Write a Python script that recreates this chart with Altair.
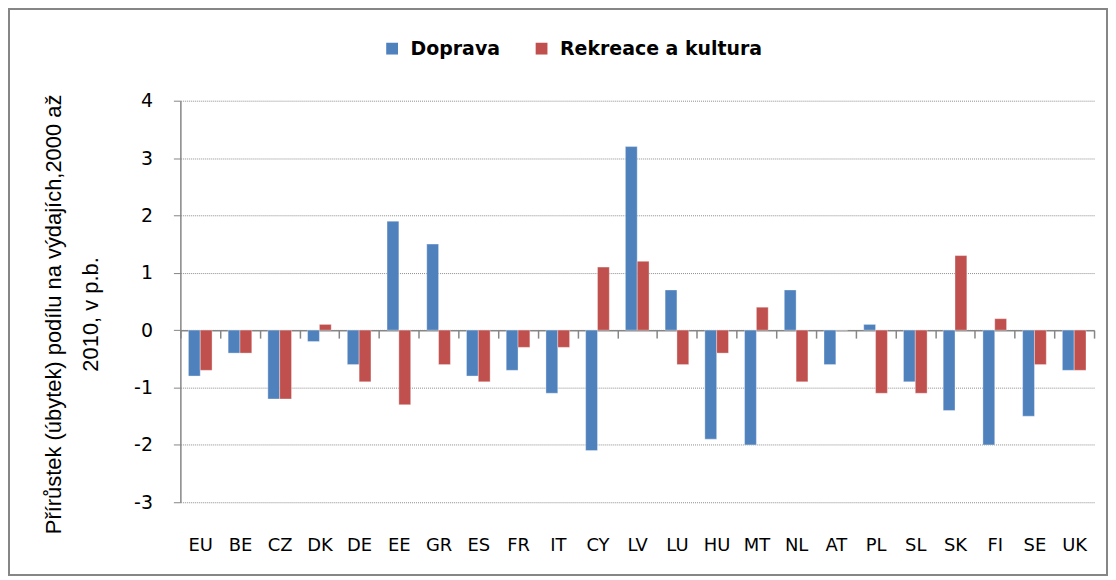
import altair as alt
import pandas as pd

countries = ["EU", "BE", "CZ", "DK", "DE", "EE", "GR", "ES", "FR", "IT", "CY", "LV",
             "LU", "HU", "MT", "NL", "AT", "PL", "SL", "SK", "FI", "SE", "UK"]
doprava = [-0.8, -0.4, -1.2, -0.2, -0.6, 1.9, 1.5, -0.8, -0.7, -1.1, -2.1, 3.2,
           0.7, -1.9, -2.0, 0.7, -0.6, 0.1, -0.9, -1.4, -2.0, -1.5, -0.7]
rekreace = [-0.7, -0.4, -1.2, 0.1, -0.9, -1.3, -0.6, -0.9, -0.3, -0.3, 1.1, 1.2,
            -0.6, -0.4, 0.4, -0.9, 0.0, -1.1, -1.1, 1.3, 0.2, -0.6, -0.7]
series_names = ["Doprava", "Rekreace a kultura"]
colors = ["#4F81BD", "#C0504D"]
y_ticks = [-3, -2, -1, 0, 1, 2, 3, 4]
y_title = ["Přírůstek (úbytek) podílu na výdajích,2000 až", "2010, v p.b."]

rows = []
for c, d, r in zip(countries, doprava, rekreace):
    rows.append({"zeme": c, "rada": series_names[0], "hodnota": d})
    rows.append({"zeme": c, "rada": series_names[1], "hodnota": r})
df = pd.DataFrame(rows)

W, H = 917, 403
zero_from_bottom = H * 3 / 7

FONT = "DejaVu Sans"

bars = alt.Chart(df).mark_bar(stroke="#ffffff", strokeOpacity=0.35, strokeWidth=1).encode(
    x=alt.X("zeme:N", sort=countries,
            scale=alt.Scale(paddingInner=0, paddingOuter=0),
            axis=alt.Axis(title=None, offset=-zero_from_bottom, tickBand="extent",
                          tickSize=8, tickColor="#868686", tickWidth=1.5,
                          domainColor="#868686", domainWidth=1.5,
                          labelPadding=199, labelFont=FONT, labelFontSize=18,
                          labelAngle=0, labelColor="black", grid=False)),
    xOffset=alt.XOffset("rada:N", sort=series_names,
                        scale=alt.Scale(paddingInner=0, paddingOuter=0.68)),
    y=alt.Y("hodnota:Q",
            scale=alt.Scale(domain=[-3, 4], nice=False),
            axis=alt.Axis(values=y_ticks, title=y_title, titleAngle=270,
                          titleX=-137, titleY=214, titleAlign="center",
                          titleBaseline="top", titleLineHeight=37,
                          titleFont="Liberation Sans", titleFontSize=22,
                          titleFontWeight="normal", titleColor="black",
                          labelExpr="'' + datum.value",
                          labelFont=FONT, labelFontSize=19, labelColor="black",
                          labelPadding=21, tickSize=7, tickColor="#868686",
                          domainColor="#868686", domainWidth=1.5,
                          grid=True, gridDash=[1, 1], gridColor="#8c8c8c",
                          gridWidth=1)),
    color=alt.Color("rada:N", sort=series_names,
                    scale=alt.Scale(domain=series_names, range=colors),
                    legend=alt.Legend(title=None, orient="none", legendX=203,
                                      legendY=-62, direction="horizontal",
                                      symbolType="square", symbolSize=140,
                                      symbolStrokeWidth=0, labelFont=FONT,
                                      labelFontSize=19, labelFontWeight="bold",
                                      labelColor="black", labelOffset=9,
                                      labelLimit=0, columnPadding=32)),
)

frame = alt.Chart(pd.DataFrame({"a": [0]})).mark_rect(
    fill="transparent", stroke="#868686", strokeWidth=2
).encode(x=alt.value(-172), x2=alt.value(930), y=alt.value(-92), y2=alt.value(476))

chart = alt.layer(frame, bars).properties(
    width=W, height=H,
    padding={"left": 173, "top": 92, "right": 14, "bottom": 75},
    autosize=alt.AutoSizeParams(type="none"),
).configure_view(stroke=None)

chart.save("out.html", embed_options={"renderer": "svg", "actions": False})
